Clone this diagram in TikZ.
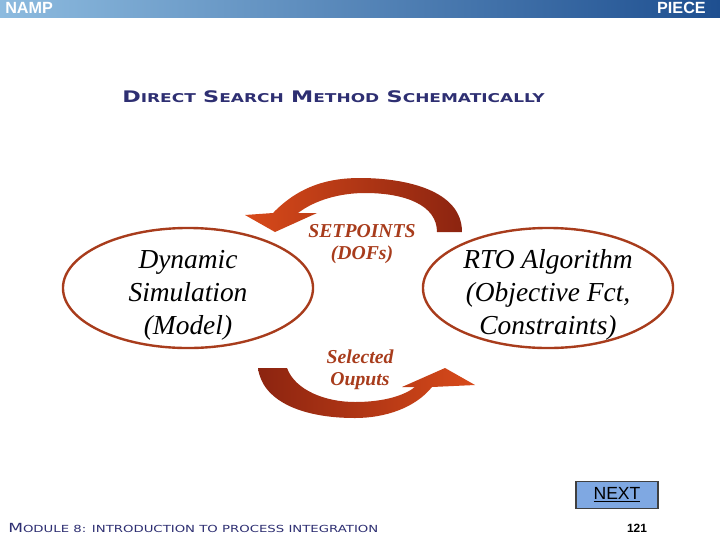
\documentclass[tikz,border=0pt]{standalone}
\usepackage{fontspec}
\setmainfont{Liberation Serif}
\newfontfamily\capsfont{DejaVu Sans}
\newfontfamily\barfont{Liberation Sans}
\usetikzlibrary{shapes.geometric}
\definecolor{navy}{HTML}{2E2F72}
\definecolor{rust}{HTML}{A83C1C}
\definecolor{arrowlight}{HTML}{D84A1A}
\definecolor{arrowdark}{HTML}{8C2410}
\definecolor{barleft}{HTML}{8DBBDF}
\definecolor{barmid}{HTML}{B8DAF0}
\definecolor{barright}{HTML}{1E4F90}
\definecolor{nextblue}{HTML}{7FA8E2}
\def\bigsc#1#2{{\fontsize{#1}{#1}\selectfont #2}}
\tikzset{
  loop/.style={ellipse, draw=rust, line width=1.7pt, minimum width=6.25cm, minimum height=3cm, inner sep=0pt},
  looptext/.style={align=center, font=\fontsize{19.5}{23.4}\selectfont\itshape},
  flowtext/.style={align=center, text=rust, font=\fontsize{14}{16}\selectfont\bfseries\itshape},
  bartext/.style={text=white, font=\barfont\bfseries\fontsize{11.5}{12}\selectfont, inner sep=0pt}
}

\begin{document}
\begin{tikzpicture}[x=0.025cm, y=-0.025cm]
		%%%%% START %%%%%
		
		\fill[white] (0, 0) rectangle (720, 540);
		
		\shade[left color=barleft, middle color=barmid, right color=barright] (0, 0) rectangle (720, 17);
		\node[bartext, anchor=west] (namp) at (5, 8) {NAMP};
		\node[bartext, anchor=east] (piece) at (706, 8) {PIECE};
		
		\node[anchor=west, inner sep=0pt, text=navy, font=\capsfont\bfseries] (title) at (122, 97)
			{\scalebox{1.51}[1.08]{\bigsc{10.5}{D}\bigsc{8}{IRECT} \bigsc{10.5}{S}\bigsc{8}{EARCH} \bigsc{10.5}{M}\bigsc{8}{ETHOD} \bigsc{10.5}{S}\bigsc{8}{CHEMATICALLY}}};
		
		\node[loop] (sim) at (188, 288) {};
		\node[loop] (rto) at (548, 288) {};
		\node[looptext] (simtext) at (188, 295) {Dynamic\\Simulation\\(Model)};
		\node[looptext] (rtotext) at (548, 295) {RTO Algorithm\\(Objective Fct,\\Constraints)};
		
		\shade[left color=arrowlight, right color=arrowdark] (245, 215) -- (273, 213)
			.. controls (300, 185) and (330, 178) .. (360, 178)
			.. controls (405, 178) and (462, 190) .. (462, 232) -- (437, 232)
			.. controls (437, 205) and (405, 193) .. (365, 193)
			.. controls (340, 193) and (315, 200) .. (298, 213) -- (317, 213) -- (275, 232) -- cycle;
		
		\shade[left color=arrowdark, right color=arrowlight] (258, 368) -- (287, 368)
			.. controls (295, 390) and (325, 402) .. (355, 402)
			.. controls (385, 402) and (405, 395) .. (415, 387) -- (402, 387) -- (445, 368) -- (475, 385) -- (432, 387)
			.. controls (415, 408) and (385, 418) .. (355, 418)
			.. controls (300, 418) and (262, 400) .. (258, 368) -- cycle;
		
		\node[flowtext] (setp) at (362, 244) {SETPOINTS\\(DOFs)};
		\node[flowtext] (outs) at (360, 370) {Selected\\Ouputs};
		
		\node[draw=black!75, line width=1pt, fill=nextblue, minimum width=2.05cm, minimum height=0.67cm, inner sep=0pt, font=\barfont\fontsize{12.5}{13}\selectfont] (next) at (617, 495) {\underline{NEXT}};
		
		\node[anchor=west, inner sep=0pt, text=navy, font=\capsfont] (module) at (8, 528)
			{\scalebox{1.43}[1.05]{\bigsc{8.5}{M}\bigsc{6.6}{ODULE 8: INTRODUCTION TO PROCESS INTEGRATION}}};
		\node[inner sep=0pt, font=\barfont\bfseries\fontsize{8.5}{9}\selectfont] (page) at (637, 528) {121};
		
		%%%%% END %%%%%
	\end{tikzpicture}
\end{document}
